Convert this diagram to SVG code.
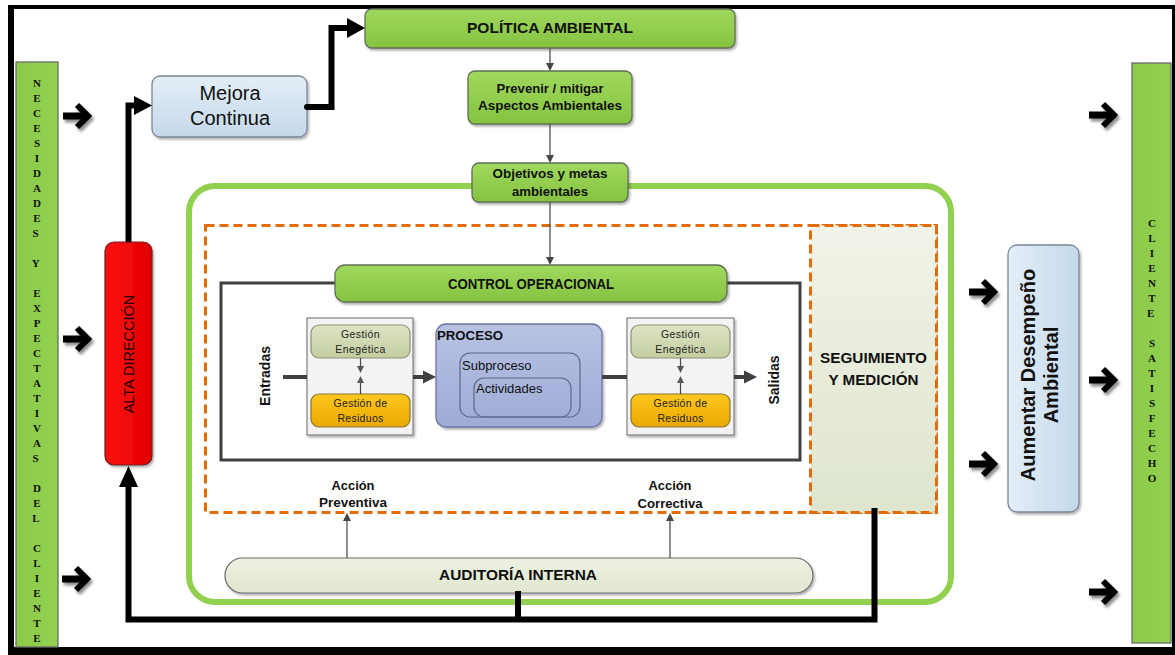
<svg xmlns="http://www.w3.org/2000/svg" width="1175" height="655" viewBox="0 0 1175 655">
<defs>
<style>
.sans{font-family:"Liberation Sans",Arial,sans-serif;}
.nar{font-family:"Liberation Sans Narrow","Liberation Sans",Arial,sans-serif;font-weight:bold;fill:#111;}
.ser{font-family:"Liberation Serif","Times New Roman",serif;font-weight:bold;font-size:11px;fill:#111;}
.c{text-anchor:middle;dominant-baseline:central;}
.green{fill:url(#gGreen);stroke:#5f6f55;stroke-width:1.3;}
.blue{fill:url(#gBlue);stroke:#7a8794;stroke-width:1.3;}
.olive{fill:url(#gOlive);stroke:#8c9378;stroke-width:1.2;}
.gold{fill:url(#gGold);stroke:#8a7330;stroke-width:1.2;}
.panel{fill:#f3f3f3;stroke:#808080;stroke-width:1.2;}
.thin{stroke:#454545;stroke-width:1.2;fill:none;}
.thick{stroke:#000;stroke-width:6;fill:none;}
.pline{stroke:#404040;stroke-width:4;fill:none;}
.dash{stroke:#e36c0a;stroke-width:3;stroke-dasharray:9 5;}
</style>
<linearGradient id="gGreen" x1="0" y1="0" x2="0" y2="1"><stop offset="0" stop-color="#9fd95e"/><stop offset="1" stop-color="#86c340"/></linearGradient>
<linearGradient id="gBlue" x1="0" y1="0" x2="0" y2="1"><stop offset="0" stop-color="#e4eef8"/><stop offset="1" stop-color="#c4d8eb"/></linearGradient>
<linearGradient id="gBlueH" x1="0" y1="0" x2="1" y2="0"><stop offset="0" stop-color="#e4eef8"/><stop offset="1" stop-color="#c4d8eb"/></linearGradient>
<linearGradient id="gRed" x1="0" y1="0" x2="1" y2="0"><stop offset="0" stop-color="#ff1010"/><stop offset="1" stop-color="#e00000"/></linearGradient>
<linearGradient id="gProc" x1="0" y1="0" x2="0" y2="1"><stop offset="0" stop-color="#b7c2e3"/><stop offset="1" stop-color="#9eabd6"/></linearGradient>
<linearGradient id="gOlive" x1="0" y1="0" x2="0" y2="1"><stop offset="0" stop-color="#dde4c6"/><stop offset="1" stop-color="#c3cd9f"/></linearGradient>
<linearGradient id="gGold" x1="0" y1="0" x2="0" y2="1"><stop offset="0" stop-color="#ffc81e"/><stop offset="1" stop-color="#eaa800"/></linearGradient>
<linearGradient id="gSeg" x1="0" y1="0" x2="0" y2="1"><stop offset="0" stop-color="#f1f3e8"/><stop offset="1" stop-color="#dee5cd"/></linearGradient>
<linearGradient id="gAud" x1="0" y1="0" x2="0" y2="1"><stop offset="0" stop-color="#eef1e3"/><stop offset="1" stop-color="#e0e6cf"/></linearGradient>
<linearGradient id="gBar" x1="0" y1="0" x2="1" y2="0"><stop offset="0" stop-color="#8ccb48"/><stop offset="1" stop-color="#92d050"/></linearGradient>
<filter id="sh" x="-10%" y="-10%" width="130%" height="140%"><feDropShadow dx="1.5" dy="2" stdDeviation="1.3" flood-color="#000" flood-opacity="0.3"/></filter>
<filter id="ash" x="-30%" y="-50%" width="160%" height="200%"><feDropShadow dx="2" dy="3" stdDeviation="1.5" flood-color="#000" flood-opacity="0.45"/></filter>
<g id="bigArrow"><path d="M0,0 H23" stroke="#000" stroke-width="7"/><polyline points="14,-11 25,0 14,11" fill="none" stroke="#000" stroke-width="6"/></g>
</defs>

<rect x="0" y="0" width="1175" height="655" fill="#fff"/>
<rect x="8" y="5" width="1167" height="650" fill="#000"/>
<rect x="14" y="9" width="1158" height="638" fill="#fff"/>

<g id="necesidades">
<rect x="16" y="62" width="42" height="585" fill="url(#gBar)" stroke="#6a6a6a" stroke-width="1.3"/>
<text class="ser c">
<tspan x="37" y="83">N</tspan><tspan x="37" y="98">E</tspan><tspan x="37" y="113">C</tspan><tspan x="37" y="128">E</tspan><tspan x="37" y="143">S</tspan><tspan x="37" y="158">I</tspan><tspan x="37" y="173">D</tspan><tspan x="37" y="188">A</tspan><tspan x="37" y="203">D</tspan><tspan x="37" y="218">E</tspan><tspan x="37" y="233">S</tspan>
<tspan x="37" y="263">Y</tspan>
<tspan x="37" y="293">E</tspan><tspan x="37" y="308">X</tspan><tspan x="37" y="323">P</tspan><tspan x="37" y="338">E</tspan><tspan x="37" y="353">C</tspan><tspan x="37" y="368">T</tspan><tspan x="37" y="383">A</tspan><tspan x="37" y="398">T</tspan><tspan x="37" y="413">I</tspan><tspan x="37" y="428">V</tspan><tspan x="37" y="443">A</tspan><tspan x="37" y="458">S</tspan>
<tspan x="37" y="488">D</tspan><tspan x="37" y="503">E</tspan><tspan x="37" y="518">L</tspan>
<tspan x="37" y="548">C</tspan><tspan x="37" y="563">L</tspan><tspan x="37" y="578">I</tspan><tspan x="37" y="593">E</tspan><tspan x="37" y="608">N</tspan><tspan x="37" y="623">T</tspan><tspan x="37" y="638">E</tspan>
</text>
</g>

<g id="cliente-satisfecho">
<rect x="1132" y="63" width="39" height="580" fill="url(#gBar)" stroke="#6a6a6a" stroke-width="1.3"/>
<text class="ser c">
<tspan x="1152" y="223">C</tspan><tspan x="1152" y="238">L</tspan><tspan x="1152" y="253">I</tspan><tspan x="1152" y="268">E</tspan><tspan x="1152" y="283">N</tspan><tspan x="1152" y="298">T</tspan><tspan x="1152" y="313">E</tspan>
<tspan x="1152" y="343">S</tspan><tspan x="1152" y="358">A</tspan><tspan x="1152" y="373">T</tspan><tspan x="1152" y="388">I</tspan><tspan x="1152" y="403">S</tspan><tspan x="1152" y="418">F</tspan><tspan x="1152" y="433">E</tspan><tspan x="1152" y="448">C</tspan><tspan x="1152" y="463">H</tspan><tspan x="1152" y="478">O</tspan>
</text>
</g>

<g id="sistema">
<rect x="189" y="186" width="762" height="416" rx="26" fill="#fff" stroke="#92d050" stroke-width="6"/>
<rect x="205.5" y="225.5" width="731" height="287" fill="none" class="dash"/>
</g>

<g id="seguimiento">
<rect x="810.5" y="225.5" width="126" height="287" fill="url(#gSeg)" class="dash"/>
<text class="nar c" font-size="14" x="873.5" y="357.5" textLength="107" lengthAdjust="spacingAndGlyphs">SEGUIMIENTO</text>
<text class="nar c" font-size="14" x="873.5" y="380" textLength="90" lengthAdjust="spacingAndGlyphs">Y MEDICIÓN</text>
</g>

<g id="alta-direccion">
<rect x="105" y="242" width="47" height="223" rx="9" fill="url(#gRed)" stroke="#6b2020" stroke-width="1.2" filter="url(#sh)"/>
<text class="sans c" font-size="14.5" fill="#220000" transform="translate(128.5,354) rotate(-90)">ALTA DIRECCIÓN</text>
</g>

<g id="mejora-continua">
<rect x="152" y="76" width="155" height="61" rx="8" class="blue" filter="url(#sh)"/>
<text class="sans c" font-size="20" fill="#111" x="230" y="93">Mejora</text>
<text class="sans c" font-size="20" fill="#111" x="230" y="118">Continua</text>
</g>

<g id="politica-ambiental">
<rect x="365" y="9" width="370" height="39" rx="7" class="green" filter="url(#sh)"/>
<text class="nar c" font-size="15" x="550" y="27.5" textLength="166" lengthAdjust="spacingAndGlyphs">POLÍTICA AMBIENTAL</text>
</g>

<g id="prevenir">
<rect x="468" y="71" width="164" height="53" rx="7" class="green" filter="url(#sh)"/>
<text class="nar c" font-size="13" x="550" y="88" textLength="107" lengthAdjust="spacingAndGlyphs">Prevenir / mitigar</text>
<text class="nar c" font-size="13" x="550" y="105.5" textLength="144" lengthAdjust="spacingAndGlyphs">Aspectos Ambientales</text>
</g>

<g id="objetivos">
<rect x="472" y="163" width="156" height="39" rx="7" class="green" filter="url(#sh)"/>
<text class="nar c" font-size="13" x="550" y="173.5" textLength="115" lengthAdjust="spacingAndGlyphs">Objetivos y metas</text>
<text class="nar c" font-size="13" x="550" y="191" textLength="76" lengthAdjust="spacingAndGlyphs">ambientales</text>
</g>

<g id="marco-proceso">
<rect x="221" y="283" width="579" height="177" fill="none" stroke="#404040" stroke-width="3"/>
</g>

<g id="control-operacional">
<rect x="335" y="265" width="392" height="37" rx="10" class="green" filter="url(#sh)"/>
<text class="nar c" font-size="14" x="531" y="283.5" textLength="166" lengthAdjust="spacingAndGlyphs">CONTROL OPERACIONAL</text>
</g>

<g id="entradas">
<text class="sans c" font-size="14" font-weight="bold" fill="#111" transform="translate(265,376) rotate(-90)">Entradas</text>
</g>

<g id="gestion-entrada">
<rect x="307" y="318" width="106" height="117" class="panel" filter="url(#sh)"/>
<rect x="311" y="325" width="99" height="33" rx="8" class="olive"/>
<text class="sans c" font-size="10.5" fill="#222" x="360.5" y="333.5" letter-spacing="0.4">Gestión</text>
<text class="sans c" font-size="10.5" fill="#222" x="360.5" y="349" letter-spacing="0.4">Enegética</text>
<rect x="311" y="394" width="99" height="33" rx="8" class="gold"/>
<text class="sans c" font-size="10.5" fill="#222" x="360.5" y="403" letter-spacing="0.3">Gestión de</text>
<text class="sans c" font-size="10.5" fill="#222" x="360.5" y="418" letter-spacing="0.3">Residuos</text>
</g>

<g id="proceso">
<rect x="436" y="324" width="166" height="103" rx="10" fill="url(#gProc)" stroke="#6a77a6" stroke-width="1.3" filter="url(#sh)"/>
<text class="sans" font-size="13.5" font-weight="bold" fill="#111" x="437" y="340" textLength="66" lengthAdjust="spacingAndGlyphs">PROCESO</text>
<rect x="460" y="353" width="120" height="64" rx="10" fill="none" stroke="#5d678a" stroke-width="1.2"/>
<text class="sans" font-size="13" fill="#111" x="462" y="370">Subproceso</text>
<rect x="474" y="378" width="97" height="39" rx="10" fill="none" stroke="#5d678a" stroke-width="1.2"/>
<text class="sans" font-size="13" fill="#111" x="476" y="393">Actividades</text>
</g>

<g id="gestion-salida">
<rect x="627" y="318" width="107" height="117" class="panel" filter="url(#sh)"/>
<rect x="631" y="325" width="99" height="33" rx="8" class="olive"/>
<text class="sans c" font-size="10.5" fill="#222" x="680.5" y="333.5" letter-spacing="0.4">Gestión</text>
<text class="sans c" font-size="10.5" fill="#222" x="680.5" y="349" letter-spacing="0.4">Enegética</text>
<rect x="631" y="394" width="99" height="33" rx="8" class="gold"/>
<text class="sans c" font-size="10.5" fill="#222" x="680.5" y="403" letter-spacing="0.3">Gestión de</text>
<text class="sans c" font-size="10.5" fill="#222" x="680.5" y="418" letter-spacing="0.3">Residuos</text>
</g>

<g id="salidas">
<text class="sans c" font-size="14" font-weight="bold" fill="#111" transform="translate(774,380) rotate(-90)">Salidas</text>
</g>

<g id="accion-preventiva">
<text class="nar c" font-size="13" x="353" y="485" textLength="43" lengthAdjust="spacingAndGlyphs">Acción</text>
<text class="nar c" font-size="13" x="353" y="502" textLength="68" lengthAdjust="spacingAndGlyphs">Preventiva</text>
</g>

<g id="accion-correctiva">
<text class="nar c" font-size="13" x="670" y="485" textLength="43" lengthAdjust="spacingAndGlyphs">Acción</text>
<text class="nar c" font-size="13" x="670" y="503" textLength="65" lengthAdjust="spacingAndGlyphs">Correctiva</text>
</g>

<g id="auditoria-interna">
<rect x="225" y="558" width="588" height="35" rx="17.5" fill="url(#gAud)" stroke="#6a6a6a" stroke-width="1.2" filter="url(#sh)"/>
<text class="nar c" font-size="14" x="518" y="575" textLength="158" lengthAdjust="spacingAndGlyphs">AUDITORÍA INTERNA</text>
</g>

<g id="aumentar-desempeno">
<rect x="1008" y="245" width="71" height="267" rx="9" fill="url(#gBlueH)" stroke="#7a8794" stroke-width="1.3" filter="url(#sh)"/>
<text class="sans c" font-size="20" font-weight="bold" fill="#111" transform="translate(1039,375) rotate(-90)"><tspan x="0" y="-11">Aumentar Desempeño</tspan><tspan x="0" y="12">Ambiental</tspan></text>
</g>

<g id="connectors">
<line x1="550" y1="48" x2="550" y2="64" class="thin"/><polygon points="546,63 554,63 550,71" fill="#454545"/>
<line x1="550" y1="124" x2="550" y2="156" class="thin"/><polygon points="546,155 554,155 550,163" fill="#454545"/>
<line x1="550" y1="202" x2="550" y2="258" class="thin"/><polygon points="546,257 554,257 550,265" fill="#454545"/>
<line x1="347" y1="558" x2="347" y2="520" class="thin"/><polygon points="343,521 351,521 347,513" fill="#454545"/>
<line x1="670" y1="558" x2="670" y2="520" class="thin"/><polygon points="666,521 674,521 670,513" fill="#454545"/>

<line x1="360.5" y1="358" x2="360.5" y2="367" class="thin"/><polygon points="357,366 364,366 360.5,373" fill="#555"/>
<line x1="360.5" y1="394" x2="360.5" y2="382" class="thin"/><polygon points="357,383 364,383 360.5,376" fill="#555"/>
<line x1="680.5" y1="358" x2="680.5" y2="367" class="thin"/><polygon points="677,366 684,366 680.5,373" fill="#555"/>
<line x1="680.5" y1="394" x2="680.5" y2="382" class="thin"/><polygon points="677,383 684,383 680.5,376" fill="#555"/>

<line x1="283" y1="377" x2="307" y2="377" class="pline"/>
<line x1="413" y1="377" x2="425" y2="377" class="pline"/><polygon points="423,370.5 436,377 423,383.5" fill="#404040"/>
<line x1="602" y1="377" x2="627" y2="377" class="pline"/>
<line x1="734" y1="377" x2="746" y2="377" class="pline"/><polygon points="744,370.5 757,377 744,383.5" fill="#404040"/>

<path d="M128.5,242 V105.5 H138" class="thick"/><polygon points="134,96 152,105.5 134,115" fill="#000"/>
<path d="M306,107 H331.5 V28 H350" class="thick" stroke-linejoin="miter"/><polygon points="347,18 365,28 347,38" fill="#000"/>
<circle cx="307" cy="107" r="3" fill="#000"/>
<path d="M874.5,508 V619.5 H128.5 V484" class="thick"/><polygon points="119,487 128.5,466 138,487" fill="#000"/>
<path d="M518,591 V619.5" class="thick"/>

<g filter="url(#ash)">
<use href="#bigArrow" x="63" y="116"/>
<use href="#bigArrow" x="63" y="339"/>
<use href="#bigArrow" x="62" y="579"/>
<use href="#bigArrow" x="969" y="292"/>
<use href="#bigArrow" x="969" y="464"/>
<use href="#bigArrow" x="1089" y="115"/>
<use href="#bigArrow" x="1089" y="380"/>
<use href="#bigArrow" x="1089" y="592"/>
</g>
</g>
</svg>
